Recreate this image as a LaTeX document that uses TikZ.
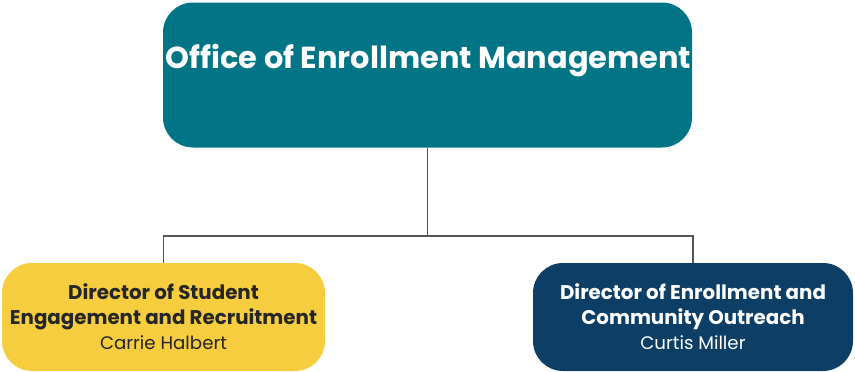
\documentclass[tikz,border=0pt]{standalone}
\usepackage{fontspec}
\setmainfont{Poppins}
\usetikzlibrary{positioning}

\definecolor{omteal}{HTML}{017585}
\definecolor{omyellow}{HTML}{F5CD3F}
\definecolor{omnavy}{HTML}{0D3F66}
\definecolor{omline}{HTML}{555555}
\definecolor{omtext}{HTML}{262626}

\tikzset{
    orgbox/.style={rectangle, rounded corners=30pt, draw=none, inner sep=0pt},
    rolebox/.style={orgbox, minimum height=108pt, align=center,
        font=\fontsize{19.8}{25}\selectfont\bfseries},
    orgline/.style={draw=omline, line width=1.4pt}
}

\begin{document}
\begin{tikzpicture}[x=1pt, y=-1pt]
    \useasboundingbox (0,0) rectangle (855,372);

    % Top office
    \node[orgbox, fill=omteal, minimum width=529pt, minimum height=145pt] (office) at (427.5,75) {};
    \node[font=\fontsize{30.4}{36}\selectfont\bfseries, text=white, anchor=base] (officetitle) at (428.5,68) {Office of Enrollment Management};

    % Directors
    \node[rolebox, fill=omyellow, text=omtext, minimum width=323pt] (student) at (163.5,317)
        {Director of Student\\Engagement and Recruitment\\{\fontsize{18.2}{23}\selectfont\mdseries Carrie Halbert}};
    \node[rolebox, fill=omnavy, text=white, minimum width=320pt] (outreach) at (693,317)
        {Director of Enrollment and\\Community Outreach\\{\fontsize{18.2}{23}\selectfont\mdseries Curtis Miller}};

    % Lines
    \coordinate (branch) at (427.5,236);
    \draw[orgline] (office.south) -- (branch);
    \draw[orgline] (student.north) |- (branch) -| (outreach.north);
\end{tikzpicture}
\end{document}
